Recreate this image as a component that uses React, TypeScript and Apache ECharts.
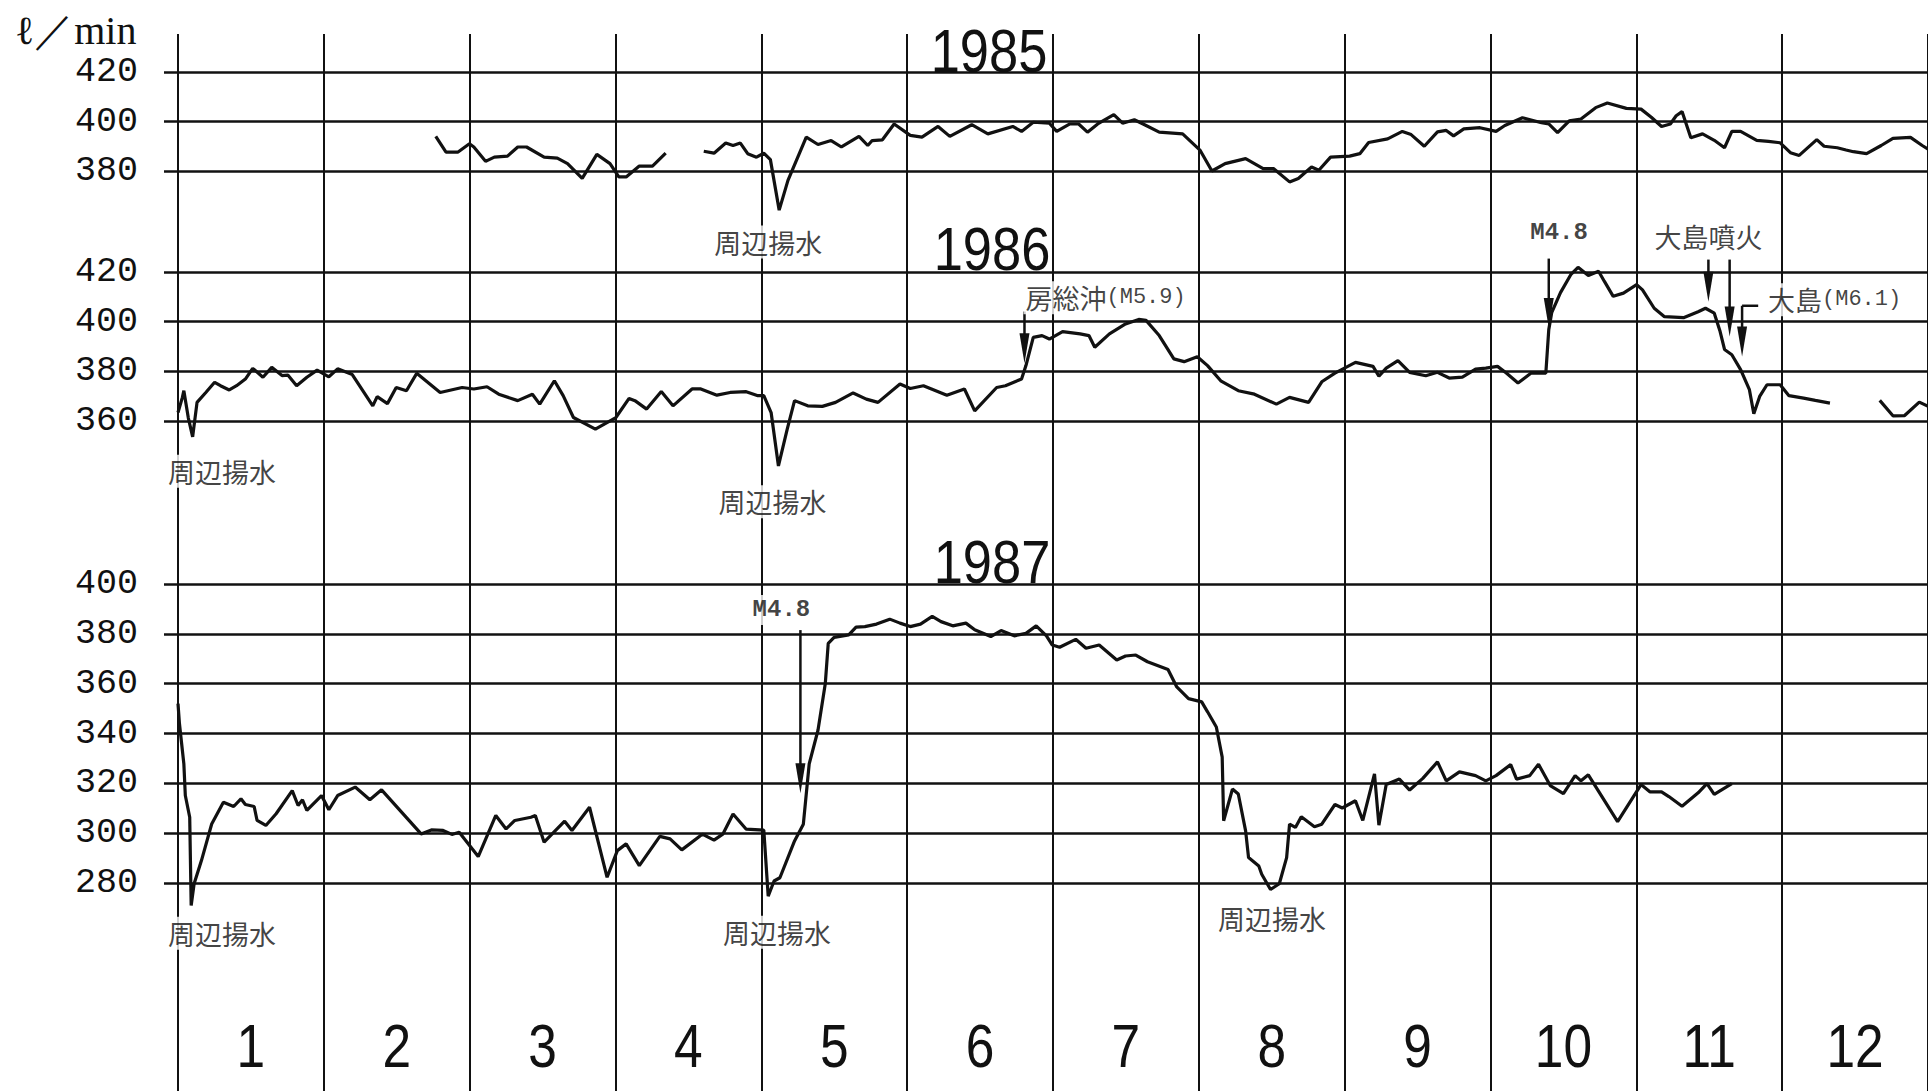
import React, { useEffect, useRef } from "react";
import * as echarts from "echarts";

// ---------------- data (x = month position, 0 = 1 Jan; y = ℓ/min) ----------------
const MONTHS = ["1", "2", "3", "4", "5", "6", "7", "8", "9", "10", "11", "12"];
const YEARS = ["1985", "1986", "1987"];
const RANGE_1985 = [380, 420];
const RANGE_1986 = [360, 420];
const RANGE_1987 = [280, 400];
const TICK_STEP = 20;

const FLOW_1985_A = [
  [1.76, 394], [1.83, 387.6], [1.91, 387.6], [1.99, 391], [2.02, 389.7], [2.1, 383.9], [2.16, 385.6],
  [2.25, 386], [2.32, 389.7], [2.38, 389.7], [2.5, 385.6], [2.59, 385.2], [2.66, 383], [2.76, 377],
  [2.86, 386.7], [2.95, 383], [3.01, 377.6], [3.06, 377.6], [3.15, 382], [3.24, 382], [3.33, 387.2],
];
const FLOW_1985_B = [
  [3.59, 388], [3.66, 387.2], [3.74, 391.3], [3.79, 390.3], [3.84, 391.3], [3.89, 387], [3.95, 385.6],
  [4.0, 387.2], [4.045, 384.6], [4.105, 364.2], [4.165, 376.2], [4.29, 393.7], [4.37, 390.7], [4.46, 392.3],
  [4.53, 389.7], [4.65, 394], [4.71, 390.3], [4.74, 392.3], [4.81, 392.6], [4.89, 399], [5.0, 394.4],
  [5.08, 393.7], [5.19, 398], [5.27, 394], [5.42, 398.7], [5.53, 395], [5.7, 398], [5.76, 396],
  [5.84, 399.7], [5.95, 399.3], [6.0, 396], [6.09, 399], [6.15, 399], [6.21, 395.7], [6.28, 399],
  [6.39, 402.8], [6.45, 399.3], [6.53, 400.7], [6.59, 399], [6.7, 395.7], [6.86, 395], [6.98, 388.3],
  [7.06, 380], [7.15, 383], [7.29, 385], [7.41, 381], [7.48, 381], [7.59, 375.6], [7.65, 377],
  [7.74, 381.6], [7.79, 380.3], [7.87, 385.6], [8.0, 386], [8.07, 387], [8.13, 391.5], [8.26, 393],
  [8.36, 396], [8.42, 394.7], [8.51, 390], [8.6, 395.8], [8.66, 396.4], [8.71, 394.2], [8.78, 397],
  [8.89, 397.5], [9.0, 396], [9.06, 398.4], [9.18, 401.5], [9.31, 399.5], [9.36, 399], [9.42, 395.5],
  [9.5, 400.3], [9.58, 401], [9.68, 405.6], [9.76, 407.5], [9.89, 405.3], [9.99, 405], [10.06, 401.7],
  [10.13, 398], [10.19, 399], [10.23, 402.3], [10.27, 404], [10.33, 393.4], [10.41, 395], [10.49, 392.4],
  [10.56, 389.4], [10.61, 396], [10.67, 396], [10.78, 392.4], [10.86, 392], [10.94, 391.4], [11.01, 387.4],
  [11.07, 386.3], [11.19, 392.7], [11.24, 390], [11.33, 389.4], [11.39, 388.5], [11.44, 387.8], [11.53, 387],
  [11.63, 390.3], [11.71, 393.2], [11.83, 393.6], [11.91, 390.3], [12.0, 387],
];
const FLOW_1986_A = [
  [0.0, 363.4], [0.03, 369.5], [0.04, 372.2], [0.07, 361.4], [0.1, 353.6], [0.13, 367.5], [0.19, 371.5],
  [0.25, 375.6], [0.29, 374.2], [0.35, 372.5], [0.4, 374.2], [0.46, 376.9], [0.51, 381.2], [0.58, 377.6],
  [0.64, 381.6], [0.71, 378.3], [0.75, 378.5], [0.81, 374.2], [0.88, 377.6], [0.95, 380.5], [1.03, 377.8],
  [1.09, 381], [1.19, 378.7], [1.33, 366.1], [1.36, 369.8], [1.43, 367], [1.49, 373.5], [1.56, 372.2],
  [1.63, 379.2], [1.79, 371.5], [1.94, 373.5], [2.02, 372.9], [2.11, 373.8], [2.19, 370.8], [2.32, 368.2],
  [2.42, 370.8], [2.47, 366.8], [2.57, 376.2], [2.63, 370.2], [2.7, 361.4], [2.85, 356.7], [2.99, 361.4],
  [3.08, 369.1], [3.12, 368.2], [3.2, 364.8], [3.3, 371.9], [3.38, 366.1], [3.51, 372.9], [3.57, 372.9],
  [3.68, 370.4], [3.77, 371.5], [3.88, 371.8], [3.96, 370.2], [4.0, 370.2], [4.05, 363.4], [4.1, 341.9],
  [4.16, 356.7], [4.21, 368.2], [4.3, 366.1], [4.4, 365.9], [4.49, 367.5], [4.61, 371.3], [4.7, 368.8],
  [4.78, 367.5], [4.93, 374.9], [5.0, 373.1], [5.09, 374.2], [5.25, 370.4], [5.37, 372.9], [5.44, 364.1],
  [5.59, 373.5], [5.65, 374.2], [5.76, 376.9], [5.79, 382.3], [5.84, 393.7], [5.9, 394.4], [5.95, 393],
  [6.04, 396], [6.16, 395.1], [6.22, 394.4], [6.26, 389.7], [6.36, 395.1], [6.47, 399.1], [6.56, 400.9],
  [6.61, 400.5], [6.7, 394.4], [6.8, 385], [6.87, 383.9], [6.96, 385.9], [7.03, 382.3], [7.12, 376.2],
  [7.24, 372.2], [7.35, 370.8], [7.5, 366.8], [7.59, 369.5], [7.72, 367.5], [7.81, 375.8], [7.9, 379.3],
  [8.04, 383.6], [8.16, 382], [8.2, 378], [8.25, 381.3], [8.33, 384.3], [8.41, 379.6], [8.52, 378.2],
  [8.6, 379.6], [8.68, 377.3], [8.77, 377.7], [8.86, 380.9], [8.93, 381.3], [9.01, 382], [9.07, 379.3],
  [9.15, 375.3], [9.24, 379.3], [9.34, 379.3], [9.36, 396.8], [9.38, 403.6], [9.44, 411.7], [9.51, 418.9],
  [9.56, 421.9], [9.63, 418.6], [9.7, 420.3], [9.74, 416.2], [9.8, 410.2], [9.87, 411.5], [9.96, 414.9],
  [10.0, 412.8], [10.08, 405.4], [10.15, 402], [10.28, 401.6], [10.38, 404], [10.43, 405.4], [10.49, 403.4],
  [10.53, 396], [10.56, 388.8], [10.61, 386.7], [10.67, 380.7], [10.73, 372.6], [10.76, 362.9], [10.8, 369.9],
  [10.85, 374.6], [10.94, 374.6], [11.0, 370.2], [11.1, 369.2], [11.18, 368.3], [11.28, 367.2],
];
const FLOW_1986_B = [[11.62, 368.3], [11.71, 362.1], [11.79, 362.2], [11.89, 367.6], [12.0, 364.5]];
const FLOW_1987 = [
  [0.0, 352], [0.01, 343.9], [0.04, 327.8], [0.05, 315.1], [0.08, 306.4], [0.09, 271], [0.11, 279.7],
  [0.16, 289], [0.23, 303.7], [0.31, 312.4], [0.38, 310.7], [0.43, 313.8], [0.46, 311.5], [0.52, 310.7],
  [0.54, 305.1], [0.6, 303.1], [0.67, 307.8], [0.78, 317.1], [0.82, 311.1], [0.85, 313.4], [0.88, 309.1],
  [0.98, 315.1], [1.03, 309.4], [1.09, 315.1], [1.21, 318.5], [1.31, 313.4], [1.39, 317.4], [1.66, 299.7],
  [1.73, 301.3], [1.81, 301.1], [1.87, 299.5], [1.92, 300.4], [2.05, 290.6], [2.17, 307.1], [2.24, 301.7],
  [2.3, 305.1], [2.41, 306.4], [2.44, 307.1], [2.5, 296.4], [2.64, 304.8], [2.69, 301.1], [2.81, 310.4],
  [2.93, 282.3], [3.0, 293], [3.06, 295.7], [3.15, 287], [3.29, 298.7], [3.36, 297.7], [3.44, 293.3],
  [3.58, 299.6], [3.66, 297.2], [3.72, 299.6], [3.79, 307.7], [3.88, 301.6], [4.0, 301.2], [4.03, 274.7],
  [4.07, 280.8], [4.11, 282.1], [4.21, 296.9], [4.27, 303.6], [4.31, 327.8], [4.37, 341.3], [4.42, 360.1],
  [4.44, 376.2], [4.48, 378.6], [4.58, 379.6], [4.63, 382.7], [4.69, 382.9], [4.77, 383.9], [4.86, 385.9],
  [4.93, 384.3], [5.0, 382.9], [5.07, 383.9], [5.15, 387], [5.21, 384.9], [5.29, 383.2], [5.38, 384.3],
  [5.44, 381.6], [5.55, 378.9], [5.62, 381.3], [5.71, 379.2], [5.79, 380.2], [5.86, 383.2], [5.93, 379.2],
  [5.97, 375.5], [6.02, 374.6], [6.13, 377.8], [6.2, 374.2], [6.29, 375.5], [6.41, 369.5], [6.47, 371.1],
  [6.54, 371.5], [6.62, 368.8], [6.76, 365.7], [6.82, 358.7], [6.9, 354], [6.99, 352.7], [7.03, 348.7],
  [7.09, 342.6], [7.13, 330.5], [7.14, 305], [7.2, 317.7], [7.24, 315.7], [7.29, 300.9], [7.31, 290.2],
  [7.38, 286.8], [7.4, 283.5], [7.46, 277.4], [7.52, 279.7], [7.57, 290.2], [7.59, 303.6], [7.63, 302.3],
  [7.67, 306.6], [7.76, 302.6], [7.81, 303.6], [7.9, 311.5], [7.95, 310.1], [8.04, 313], [8.09, 305.1],
  [8.17, 323.8], [8.2, 303.2], [8.25, 319.5], [8.34, 321.7], [8.41, 317.3], [8.5, 322], [8.6, 328.6],
  [8.66, 321], [8.75, 324.6], [8.86, 323.1], [8.93, 321], [9.0, 323.1], [9.1, 327.5], [9.14, 321.7],
  [9.23, 323.1], [9.29, 327.7], [9.37, 319.1], [9.46, 315.9], [9.54, 323.1], [9.58, 321], [9.63, 323.4],
  [9.83, 304.6], [9.99, 319.5], [10.05, 316.6], [10.13, 316.6], [10.18, 314.7], [10.27, 310.8],
  [10.38, 316.2], [10.44, 319.9], [10.49, 315.6], [10.61, 319.9],
];

// arrows: [x, y of tail, y of tip, x end of the side hook (0 = none)]
const ARROWS_1986 = [
  [5.78, 404.1, 383.3, 0],
  [9.36, 425.4, 397.5, 0],
  [10.45, 425, 408, 0],
  [10.595, 425, 394, 0],
  [10.68, 406.4, 386, 10.79],
];
const ARROWS_1987 = [[4.25, 381.5, 316, 0]];

// annotations: text, x, y, anchor
const NOTES_1985 = [{ text: "周辺揚水", x: 4.03, y: 351.3, anchor: "center" }];
const NOTES_1986 = [
  { text: "周辺揚水", x: 0.3, y: 339.8, anchor: "center" },
  { text: "周辺揚水", x: 4.06, y: 327.5, anchor: "center" },
  { text: "房総沖(M5.9)", x: 5.77, y: 409.6, anchor: "left" },
  { text: "M4.8", x: 9.43, y: 435.8, anchor: "center" },
  { text: "大島噴火", x: 10.45, y: 434.2, anchor: "center" },
  { text: "大島(M6.1)", x: 10.84, y: 408.8, anchor: "left" },
];
const NOTES_1987 = [
  { text: "M4.8", x: 4.12, y: 389.6, anchor: "center" },
  { text: "周辺揚水", x: 0.3, y: 259.8, anchor: "center" },
  { text: "周辺揚水", x: 4.09, y: 260.2, anchor: "center" },
  { text: "周辺揚水", x: 7.47, y: 265.6, anchor: "center" },
];

// ---------------- layout / style ----------------
const W = 1928;
const H = 1091;
const PX = 146.45; // pixels per month
const FRAME_LEFT = 178;
const PANEL_LEFT = 164;
const X_MIN = (PANEL_LEFT - FRAME_LEFT) / PX;
const X_MAX = (W - FRAME_LEFT) / PX;
const PANELS = [
  { top: 72, height: 99, range: RANGE_1985 },
  { top: 272, height: 149, range: RANGE_1986 },
  { top: 584, height: 299, range: RANGE_1987 },
];
const TITLE_POS = [
  [989, 50.5],
  [992, 249],
  [992, 562],
];
const INK = "#111";
const SANS = "'Liberation Sans', Arimo, sans-serif";
const MONO = "'Liberation Mono', 'DejaVu Sans Mono', monospace";
const CJK = "'Noto Sans CJK JP', 'Noto Sans CJK SC', sans-serif";

function toRich(s: string) {
  const runs = s.match(/[\x00-\x7f]+|[^\x00-\x7f]+/g) || [];
  return runs.map((r) => (/^[\x00-\x7f]/.test(r) ? `{m|${r}}` : `{c|${r}}`)).join("");
}

function noteSeries(notes: any[], idx: number) {
  return {
    type: "scatter",
    xAxisIndex: idx,
    yAxisIndex: idx,
    clip: false,
    silent: true,
    symbolSize: 1,
    itemStyle: { color: "rgba(0,0,0,0)" },
    z: 5,
    data: notes.map((n) => ({
      value: [n.x, n.y],
      label: {
        show: true,
        position: n.anchor === "left" ? "right" : "inside",
        distance: 0,
        formatter: toRich(n.text),
        backgroundColor: "#fff",
        padding: [3, 2],
        rich: {
          c: { fontFamily: CJK, fontSize: 27, color: INK },
          m: { fontFamily: MONO, fontSize: n.text.startsWith("M") ? 24 : 22, fontWeight: n.text.startsWith("M") ? "bold" : "normal", color: INK },
        },
      },
    })),
  };
}

function arrowSeries(data: number[][], idx: number) {
  return {
    type: "custom",
    xAxisIndex: idx,
    yAxisIndex: idx,
    silent: true,
    z: 4,
    data,
    renderItem: (params: any, api: any) => {
      const x = api.value(0);
      const a = api.coord([x, api.value(1)]);
      const b = api.coord([x, api.value(2)]);
      const hook = api.value(3);
      const L = 30;
      const hw = 5;
      const children: any[] = [
        { type: "line", shape: { x1: a[0], y1: a[1], x2: b[0], y2: b[1] - L + 4 }, style: { stroke: INK, lineWidth: 2.5 } },
        {
          type: "polygon",
          shape: { points: [[b[0] - hw, b[1] - L], [b[0] + hw, b[1] - L], [b[0], b[1]]] },
          style: { fill: INK },
        },
      ];
      if (hook > 0) {
        const h = api.coord([hook, api.value(1)]);
        children.push({ type: "line", shape: { x1: a[0], y1: a[1], x2: h[0], y2: a[1] }, style: { stroke: INK, lineWidth: 2.5 } });
      }
      return { type: "group", children };
    },
  };
}

function lineSeries(data: number[][], idx: number) {
  return {
    type: "line",
    xAxisIndex: idx,
    yAxisIndex: idx,
    data,
    showSymbol: false,
    symbol: "none",
    clip: false,
    silent: true,
    z: 3,
    lineStyle: { color: INK, width: 3.2 },
  };
}

export default function App() {
  const ref = useRef<HTMLDivElement>(null);
  useEffect(() => {
    document.body.style.margin = "0";
    const chart = echarts.init(ref.current!, null, { renderer: "svg" });
    const staticGraphics: any[] = [
      {
        id: "unit",
        type: "text",
        x: 15,
        y: 30,
        style: { text: "ℓ／min", fontFamily: "'Liberation Serif', 'DejaVu Serif', serif", fontSize: 40, fill: INK, align: "left", verticalAlign: "middle" },
      },
      ...YEARS.map((y, i) => ({
        id: "title" + i,
        type: "text",
        x: TITLE_POS[i][0],
        y: TITLE_POS[i][1],
        scaleX: 0.86,
        style: { text: y, fontFamily: SANS, fontSize: 61, fill: INK, align: "center", verticalAlign: "middle" },
      })),
    ];
    const option: any = {
      animation: false,
      backgroundColor: "#fff",
      grid: [
        ...PANELS.map((p) => ({ left: PANEL_LEFT, right: 0, top: p.top, height: p.height })),
        { left: FRAME_LEFT, top: 34, width: 12 * PX, bottom: 0 },
      ],
      xAxis: [
        ...PANELS.map((_, i) => ({ type: "value", gridIndex: i, min: X_MIN, max: X_MAX, show: false })),
        {
          type: "category",
          gridIndex: 3,
          data: MONTHS,
          boundaryGap: true,
          axisLine: { show: false },
          axisTick: { show: false },
          axisLabel: { show: false },
          splitLine: { show: true, interval: 0, lineStyle: { color: INK, width: 2 } },
          z: 0,
        },
      ],
      yAxis: [
        ...PANELS.map((p, i) => ({
          type: "value",
          gridIndex: i,
          min: p.range[0],
          max: p.range[1],
          interval: TICK_STEP,
          axisLine: { show: false },
          axisTick: { show: false },
          splitLine: { show: true, lineStyle: { color: INK, width: 2.5 } },
          axisLabel: { margin: 26, fontFamily: MONO, fontSize: 35, color: INK },
        })),
        { type: "value", gridIndex: 3, show: false },
      ],
      graphic: staticGraphics,
      series: [
        lineSeries(FLOW_1985_A, 0),
        lineSeries(FLOW_1985_B, 0),
        lineSeries(FLOW_1986_A, 1),
        lineSeries(FLOW_1986_B, 1),
        lineSeries(FLOW_1987, 2),
        arrowSeries(ARROWS_1986, 1),
        arrowSeries(ARROWS_1987, 2),
        noteSeries(NOTES_1985, 0),
        noteSeries(NOTES_1986, 1),
        noteSeries(NOTES_1987, 2),
      ],
    };
    chart.setOption(option);
    // month labels, placed at the centres of the category bands of the month axis
    const monthGraphics = MONTHS.map((m, i) => {
      const x = chart.convertToPixel({ xAxisIndex: 3 }, m) as number;
      return {
        id: "month" + i,
        type: "text",
        x,
        y: H - 46,
        scaleX: 0.83,
        style: { text: m, fontFamily: SANS, fontSize: 62, fill: INK, align: "center", verticalAlign: "middle" },
      };
    });
    chart.setOption({ graphic: [...staticGraphics, ...monthGraphics] });
    return () => chart.dispose();
  }, []);
  return <div ref={ref} style={{ position: "fixed", left: 0, top: 0, width: W, height: H, background: "#fff" }} />;
}
